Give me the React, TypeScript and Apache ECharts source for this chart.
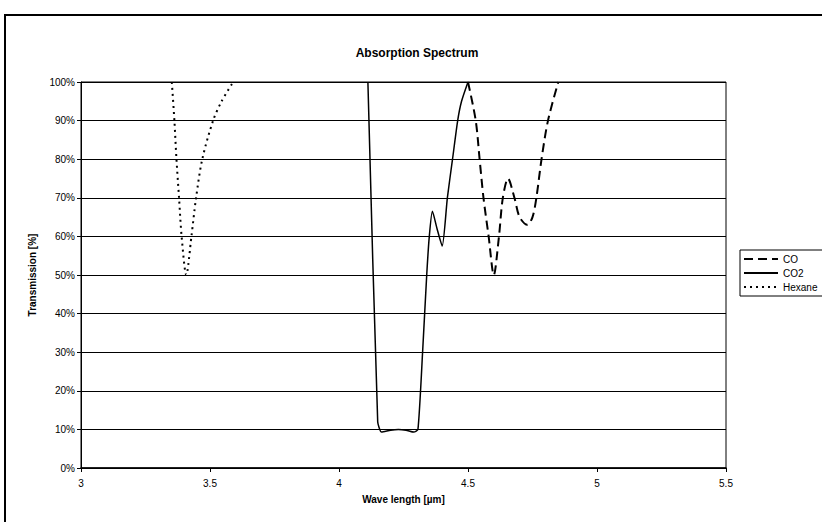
import React, { useEffect, useRef } from "react";
import * as echarts from "echarts";

const hexaneX = [3.352, 3.362, 3.37, 3.38, 3.39, 3.408, 3.428, 3.446, 3.47, 3.512, 3.545, 3.59];
const hexaneY = [100, 90, 80, 70, 60, 50, 60, 70, 80, 90, 95, 100];

const co2X = [4.112, 4.15, 4.165, 4.2, 4.23, 4.26, 4.29, 4.306, 4.324, 4.34, 4.35, 4.362, 4.38, 4.4, 4.42, 4.44, 4.46, 4.475, 4.5];
const co2Y = [100, 12, 9.3, 9.8, 10, 9.8, 9.3, 10, 30, 50, 60, 66.5, 62, 57.5, 70, 80, 90, 95, 100];

const coX = [4.5, 4.53, 4.545, 4.56, 4.58, 4.6, 4.62, 4.635, 4.655, 4.68, 4.7, 4.73, 4.75, 4.765, 4.785, 4.81, 4.85];
const coY = [100, 90, 80, 70, 60, 50, 60, 70, 75, 70, 65, 63, 65, 70, 80, 90, 100];

const seriesNames = ["CO", "CO2", "Hexane"];

const xTicks = { min: 3, max: 5.5, interval: 0.5 };
const yTicks = { min: 0, max: 100, interval: 10 };

const zip = (xs: number[], ys: number[]) => xs.map((x, i) => [x, ys[i]]);

export default function App() {
  const ref = useRef<HTMLDivElement>(null);
  useEffect(() => {
    if (!ref.current) return;
    const chart = echarts.init(ref.current, undefined, { renderer: "svg" });
    const font = "Arial, 'Liberation Sans', sans-serif";
    chart.setOption({
      animation: false,
      backgroundColor: "#fff",
      textStyle: { fontFamily: font, color: "#000" },
      title: {
        text: "Absorption Spectrum",
        left: 412,
        textAlign: "center",
        top: 42,
        textStyle: { fontSize: 12, fontWeight: "bold", color: "#000", fontFamily: font },
      },
      graphic: [
        {
          type: "rect",
          shape: { x: 5, y: 15, width: 900, height: 600 },
          style: { fill: "none", stroke: "#000", lineWidth: 2 },
          silent: true,
        },
      ],
      legend: {
        orient: "vertical",
        left: 740,
        top: 250,
        itemWidth: 34,
        itemHeight: 10,
        itemGap: 4,
        padding: [4, 10, 4, 3],
        borderColor: "#000",
        borderWidth: 1,
        itemStyle: { color: "rgba(0,0,0,0)", borderWidth: 0, opacity: 0 },
        textStyle: { fontSize: 10, color: "#000", fontFamily: font },
        data: seriesNames,
      },
      grid: {
        left: 81,
        right: 96,
        top: 82,
        bottom: 54,
        show: true,
        borderColor: "#000",
        borderWidth: 1,
      },
      xAxis: {
        type: "value",
        min: xTicks.min,
        max: xTicks.max,
        interval: xTicks.interval,
        name: "Wave length [µm]",
        nameLocation: "middle",
        nameGap: 26,
        nameTextStyle: { fontSize: 10, fontWeight: "bold", color: "#000", fontFamily: font },
        axisLine: { lineStyle: { color: "#000", width: 1.5 } },
        axisTick: { show: true, length: 4, lineStyle: { color: "#000" } },
        axisLabel: { fontSize: 10, color: "#000", margin: 10 },
        splitLine: { show: false },
      },
      yAxis: {
        type: "value",
        min: yTicks.min,
        max: yTicks.max,
        interval: yTicks.interval,
        name: "Transmission [%]",
        nameLocation: "middle",
        nameGap: 44,
        nameTextStyle: { fontSize: 10, fontWeight: "bold", color: "#000", fontFamily: font },
        axisLine: { show: true, lineStyle: { color: "#000", width: 1 } },
        axisTick: { show: true, length: 4, lineStyle: { color: "#000" } },
        axisLabel: { fontSize: 10, color: "#000", formatter: "{value}%", margin: 6 },
        splitLine: { show: true, lineStyle: { color: "#000", width: 1 } },
      },
      series: [
        {
          name: seriesNames[0],
          type: "line",
          data: zip(coX, coY),
          smooth: 0.3,
          symbol: "none",
          lineStyle: { color: "#000", width: 2, type: [9, 5] },
          itemStyle: { color: "#000" },
        },
        {
          name: seriesNames[1],
          type: "line",
          data: zip(co2X, co2Y),
          smooth: 0.2,
          symbol: "none",
          lineStyle: { color: "#000", width: 1.5, type: "solid" },
          itemStyle: { color: "#000" },
        },
        {
          name: seriesNames[2],
          type: "line",
          data: zip(hexaneX, hexaneY),
          smooth: 0.3,
          symbol: "none",
          lineStyle: { color: "#000", width: 2, type: [2, 4] },
          itemStyle: { color: "#000" },
        },
      ],
    });
    return () => chart.dispose();
  }, []);
  return (
    <div
      ref={ref}
      style={{ position: "fixed", left: 0, top: 0, width: 822, height: 522 }}
    />
  );
}
